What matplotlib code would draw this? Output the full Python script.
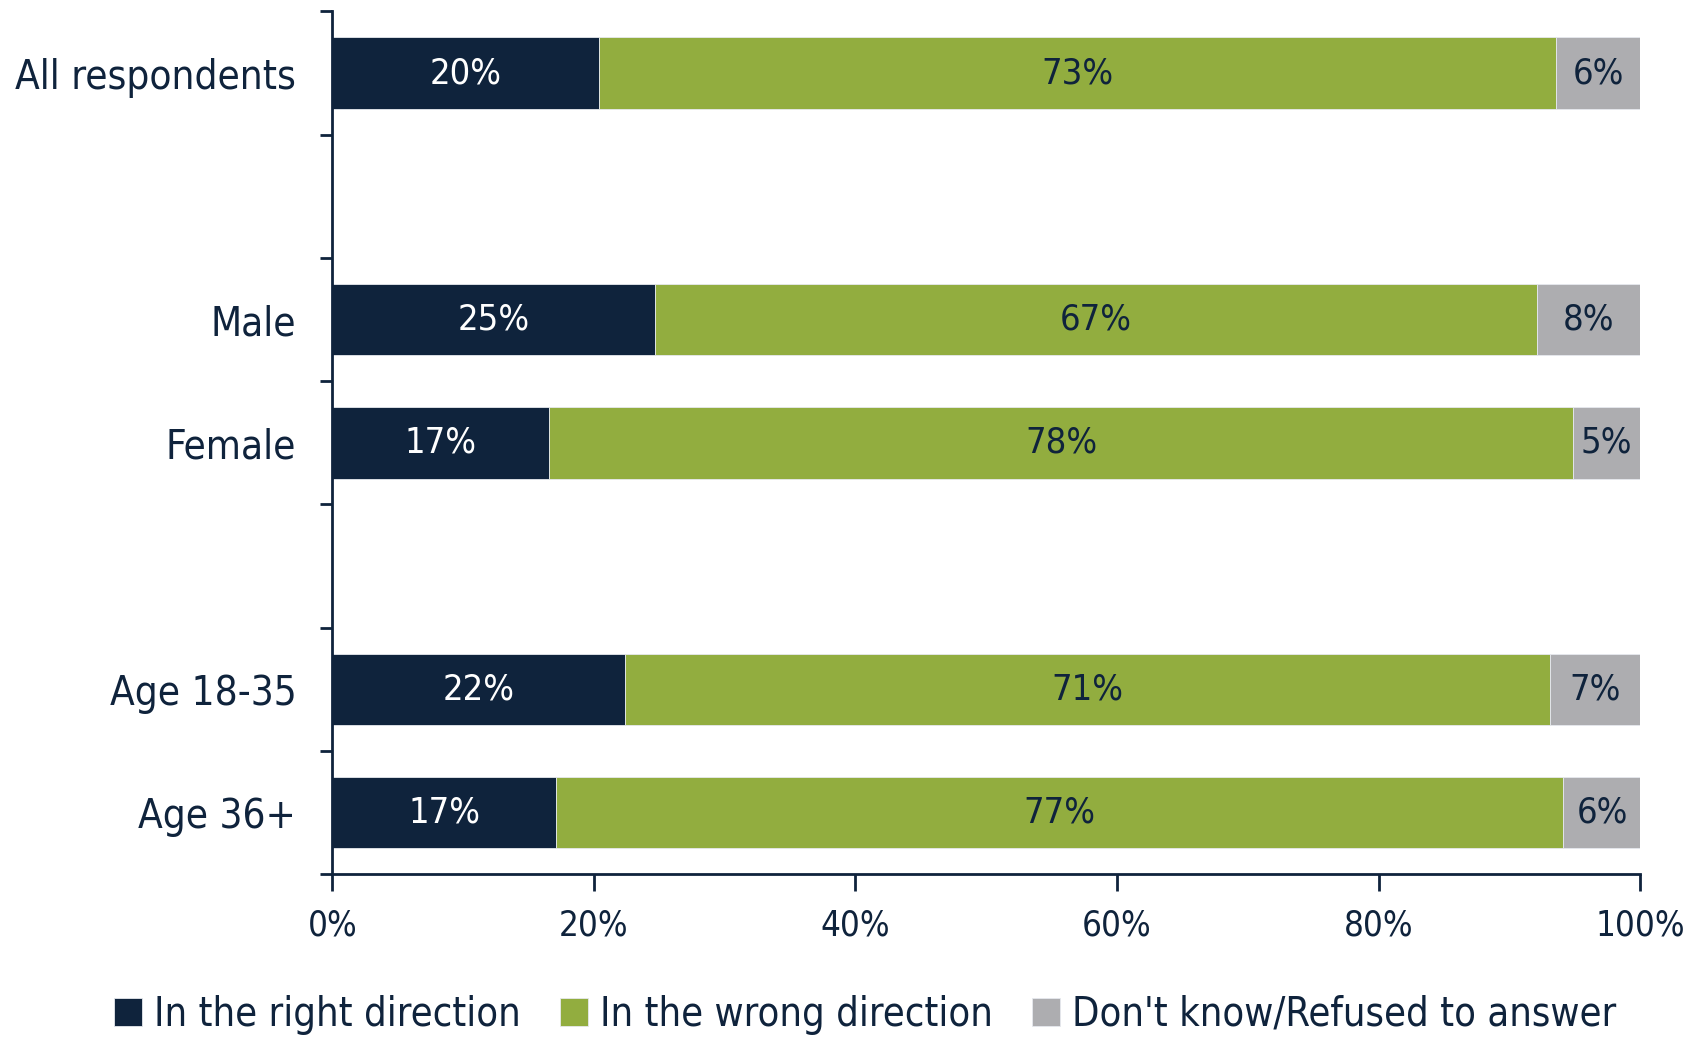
import matplotlib
matplotlib.use("Agg")
import matplotlib.pyplot as plt
import numpy as np

# categories top to bottom, blank slots separate the groups
categories = ["All respondents", "", "Male", "Female", "", "Age 18-35", "Age 36+"]
right_dir = [20.4, None, 24.7, 16.6, None, 22.4, 17.1]
wrong_dir = [73.2, None, 67.4, 78.3, None, 70.7, 77.0]
dont_know = [6.4, None, 7.9, 5.1, None, 6.9, 6.0]
series_names = ["In the right direction", "In the wrong direction", "Don't know/Refused to answer"]
x_ticks = [0, 20, 40, 60, 80, 100]

navy = "#0F233C"
green = "#92AD3F"
grey = "#ADADB0"
colors = [navy, green, grey]
label_colors = ["white", navy, navy]

plt.rcParams['font.family'] = ['DejaVu Sans']
plt.rcParams['font.stretch'] = 'condensed'

fig = plt.figure(figsize=(16.96, 10.37), dpi=100)
ax = fig.add_axes([0.196, 0.157, 0.771, 0.832])

ypos = np.arange(len(categories))
idx = [i for i in range(len(categories)) if right_dir[i] is not None]
left = np.zeros(len(idx))
for s, data in enumerate([right_dir, wrong_dir, dont_know]):
    vals = np.array([data[i] for i in idx])
    ax.barh(ypos[idx], vals, left=left, height=0.58, color=colors[s],
            edgecolor="#E6E9EE", linewidth=0.6, label=series_names[s])
    for y, l, v in zip(ypos[idx], left, vals):
        ax.text(l + v / 2, y, "%d%%" % round(v), ha="center", va="center",
                color=label_colors[s], fontsize=26)
    left = left + vals

ax.set_xlim(0, 100)
ax.set_ylim(len(categories) - 0.5, -0.5)
ax.set_xticks(x_ticks)
ax.set_xticklabels(["%d%%" % t for t in x_ticks], fontsize=25, color=navy)
ax.set_yticks(ypos)
ax.set_yticklabels(categories, fontsize=29, color=navy)
ax.set_yticks(np.arange(-0.5, len(categories)), minor=True)
ax.tick_params(axis="y", which="major", length=0, pad=26)
ax.tick_params(axis="y", which="minor", length=9, width=2, color=navy)
ax.tick_params(axis="x", length=12, width=2, color=navy, pad=13)
for sp in ["top", "right"]:
    ax.spines[sp].set_visible(False)
for sp in ["left", "bottom"]:
    ax.spines[sp].set_color(navy)
    ax.spines[sp].set_linewidth(2)

fig.legend(loc="lower center", bbox_to_anchor=(0.51, -0.032), ncol=3, frameon=False,
           fontsize=28.5, handlelength=0.7, handleheight=0.7, handletextpad=0.3,
           columnspacing=1.0, labelcolor=navy)

fig.savefig("out.png", dpi=100)
